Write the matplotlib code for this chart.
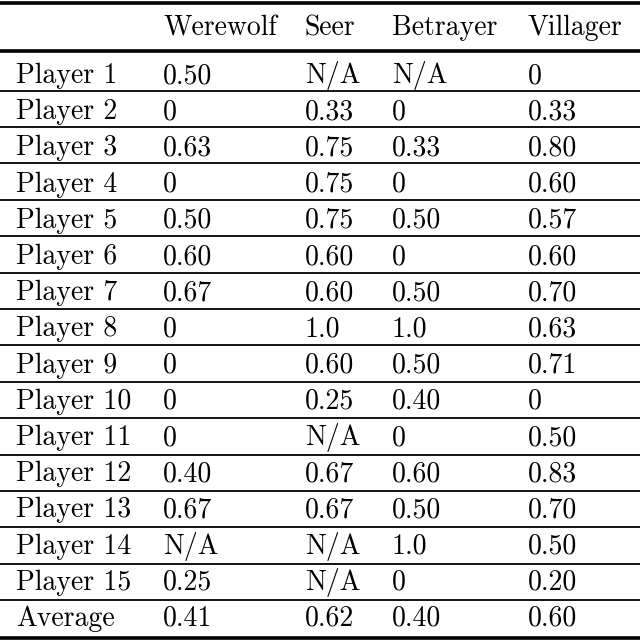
import matplotlib
matplotlib.use("Agg")
import matplotlib.pyplot as plt

columns = ["Werewolf", "Seer", "Betrayer", "Villager"]
rows = ["Player 1", "Player 2", "Player 3", "Player 4", "Player 5", "Player 6",
        "Player 7", "Player 8", "Player 9", "Player 10", "Player 11", "Player 12",
        "Player 13", "Player 14", "Player 15", "Average"]
werewolf = ["0.50", "0", "0.63", "0", "0.50", "0.60", "0.67", "0", "0", "0", "0",
            "0.40", "0.67", "N/A", "0.25", "0.41"]
seer = ["N/A", "0.33", "0.75", "0.75", "0.75", "0.60", "0.60", "1.0", "0.60", "0.25",
        "N/A", "0.67", "0.67", "N/A", "N/A", "0.62"]
betrayer = ["N/A", "0", "0.33", "0", "0.50", "0", "0.50", "1.0", "0.50", "0.40", "0",
            "0.60", "0.50", "1.0", "0", "0.40"]
villager = ["0", "0.33", "0.80", "0.60", "0.57", "0.60", "0.70", "0.63", "0.71", "0",
            "0.50", "0.83", "0.70", "0.50", "0.20", "0.60"]

W, H = 640, 644
fig = plt.figure(figsize=(W / 100, H / 100), dpi=100)
ax = fig.add_axes([0, 0, 1, 1])
ax.set_xlim(0, W)
ax.set_ylim(H, 0)
ax.axis("off")

fs = 20
font = dict(fontfamily="cmr10", fontsize=fs, color="black", va="baseline", ha="left")
col_x = [163, 305, 392, 528]
label_x = 16

# header
for x, c in zip(col_x, columns):
    ax.text(x, 35, c, **font)

row_h = 36.2
cols = [werewolf, seer, betrayer, villager]
for i, r in enumerate(rows):
    yb = 83 + row_h * i
    ax.text(label_x, yb, r, **font)
    for x, col in zip(col_x, cols):
        ax.text(x, yb, col[i], **font)

# rules
ax.axhline(3, color="black", lw=2.6)
ax.axhline(51, color="black", lw=2.6)
for i in range(len(rows) - 1):
    ax.axhline(90.5 + 36.4 * i, color="black", lw=1.3)
ax.axhline(638, color="black", lw=2.6)

fig.savefig("out.png", dpi=100)
